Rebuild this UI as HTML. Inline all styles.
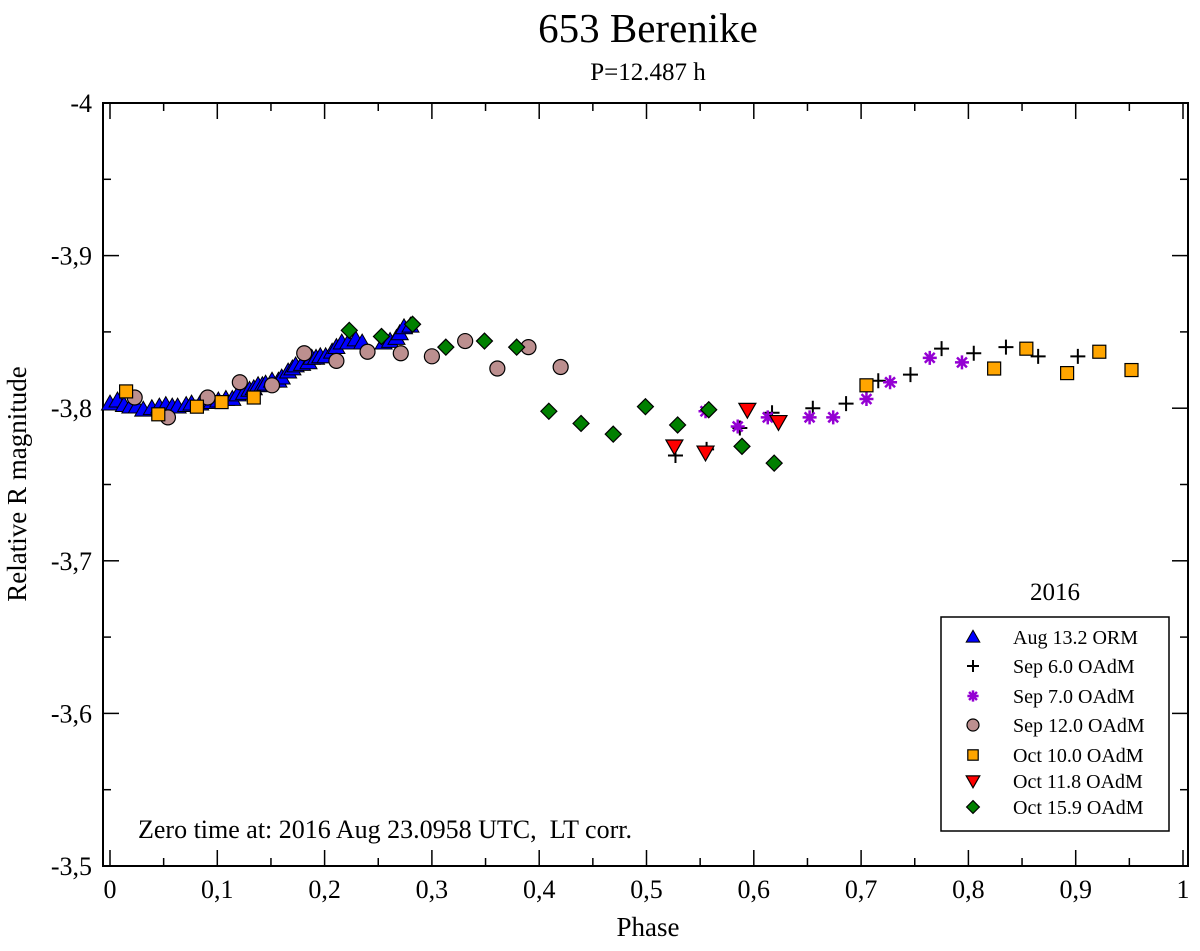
<!DOCTYPE html>
<html><head><meta charset="utf-8"><style>
html,body{margin:0;padding:0;background:#fff;}
svg text{font-family:"Liberation Serif",serif;fill:#000;}
</style></head><body>
<svg id="chart" width="1200" height="946" viewBox="0 0 1200 946" xmlns="http://www.w3.org/2000/svg">
<text x="648" y="42" font-size="41" text-anchor="middle">653 Berenike</text>
<text x="648" y="80" font-size="25" text-anchor="middle">P=12.487 h</text>
<rect x="103" y="103" width="1085" height="763" fill="none" stroke="#000" stroke-width="2"/>
<g id="ticks"></g>
<g id="marks"></g>
<text x="648" y="936" font-size="27" text-anchor="middle">Phase</text>
<text transform="translate(26,484) rotate(-90)" font-size="27" text-anchor="middle">Relative R magnitude</text>
<text x="138" y="838" font-size="26" xml:space="preserve">Zero time at: 2016 Aug 23.0958 UTC,  LT corr.</text>
<text x="1055" y="600" font-size="25" text-anchor="middle">2016</text>
<rect x="941" y="617" width="228" height="214" fill="#fff" stroke="#000" stroke-width="1.5"/>
<g id="legend"></g>
</svg>
<script>
const xTicks=[0,0.1,0.2,0.3,0.4,0.5,0.6,0.7,0.8,0.9,1];
const xTickLabels=["0","0,1","0,2","0,3","0,4","0,5","0,6","0,7","0,8","0,9","1"];
const yTicks=[-4,-3.9,-3.8,-3.7,-3.6,-3.5];
const yTickLabels=["-4","-3,9","-3,8","-3,7","-3,6","-3,5"];
const augPhase=[0.000,0.007,0.013,0.019,0.025,0.031,0.039,0.046,0.052,0.058,0.063,0.071,0.076,0.084,0.089,0.095,0.101,0.108,0.114,0.119,0.125,0.130,0.134,0.138,0.142,0.145,0.151,0.157,0.160,0.166,0.170,0.173,0.179,0.185,0.188,0.192,0.196,0.201,0.207,0.211,0.216,0.222,0.229,0.235,0.255,0.261,0.267,0.270,0.274,0.280];
const augMag=[-3.803,-3.805,-3.802,-3.801,-3.801,-3.799,-3.800,-3.801,-3.802,-3.801,-3.801,-3.802,-3.803,-3.803,-3.804,-3.804,-3.805,-3.806,-3.806,-3.809,-3.810,-3.812,-3.813,-3.815,-3.815,-3.816,-3.818,-3.818,-3.820,-3.824,-3.826,-3.828,-3.829,-3.830,-3.833,-3.833,-3.834,-3.834,-3.837,-3.840,-3.843,-3.843,-3.845,-3.843,-3.843,-3.844,-3.846,-3.849,-3.853,-3.854];
const sep6Phase=[0.527,0.556,0.587,0.617,0.655,0.686,0.716,0.746,0.775,0.805,0.835,0.865,0.902];
const sep6Mag=[-3.769,-3.773,-3.787,-3.797,-3.800,-3.803,-3.818,-3.822,-3.839,-3.836,-3.840,-3.834,-3.834];
const sep7Phase=[0.555,0.585,0.613,0.652,0.674,0.705,0.727,0.764,0.794];
const sep7Mag=[-3.798,-3.788,-3.794,-3.794,-3.794,-3.806,-3.817,-3.833,-3.830];
const sep12Phase=[0.023,0.054,0.091,0.121,0.151,0.181,0.211,0.240,0.271,0.300,0.331,0.361,0.390,0.420];
const sep12Mag=[-3.807,-3.794,-3.807,-3.817,-3.815,-3.836,-3.831,-3.837,-3.836,-3.834,-3.844,-3.826,-3.840,-3.827];
const oct10Phase=[0.015,0.045,0.081,0.104,0.134,0.705,0.824,0.854,0.892,0.922,0.952];
const oct10Mag=[-3.811,-3.796,-3.801,-3.804,-3.807,-3.815,-3.826,-3.839,-3.823,-3.837,-3.825];
const oct11Phase=[0.526,0.555,0.594,0.623];
const oct11Mag=[-3.775,-3.771,-3.799,-3.791];
const oct15Phase=[0.223,0.253,0.282,0.313,0.349,0.379,0.409,0.439,0.469,0.499,0.529,0.558,0.589,0.619];
const oct15Mag=[-3.851,-3.847,-3.855,-3.840,-3.844,-3.840,-3.798,-3.790,-3.783,-3.801,-3.789,-3.799,-3.775,-3.764];
const legendLabels=["Aug 13.2 ORM","Sep 6.0 OAdM","Sep 7.0 OAdM","Sep 12.0 OAdM","Oct 10.0 OAdM","Oct 11.8 OAdM","Oct 15.9 OAdM"];

const NS="http://www.w3.org/2000/svg";
function X(p){return 110+p*1073;}
function Y(m){return 103+(m+4)*1526;}
function mk(tag,attrs,parent){const e=document.createElementNS(NS,tag);for(const k in attrs)e.setAttribute(k,attrs[k]);parent.appendChild(e);return e;}
const tg=document.getElementById('ticks');
xTicks.forEach((t,i)=>{
  const x=X(t);
  const l=mk('line',{x1:x,x2:x,y1:866,y2:850,stroke:'#000','stroke-width':1.5},tg);
  
  
  const l2=mk('line',{x1:x,x2:x,y1:103,y2:119,stroke:'#000','stroke-width':1.5},tg);
  
  
  if(i<xTicks.length-1){const xm=X(t+0.05);
    const m1=mk('line',{x1:xm,x2:xm,y1:866,y2:858,stroke:'#000','stroke-width':1.5},tg);
    
    
    const m2=mk('line',{x1:xm,x2:xm,y1:103,y2:111,stroke:'#000','stroke-width':1.5},tg);
    
    }
  const tx=mk('text',{x:x,y:898,'font-size':26,'text-anchor':'middle'},tg);tx.textContent=xTickLabels[i];
  
  
});
yTicks.forEach((t,i)=>{
  const y=Y(t);
  const l=mk('line',{x1:103,x2:119,y1:y,y2:y,stroke:'#000','stroke-width':1.5},tg);
  
  
  const l2=mk('line',{x1:1172,x2:1188,y1:y,y2:y,stroke:'#000','stroke-width':1.5},tg);
  
  
  if(i<yTicks.length-1){const ym=Y(t+0.05);
    const m1=mk('line',{x1:103,x2:111,y1:ym,y2:ym,stroke:'#000','stroke-width':1.5},tg);
    
    
    const m2=mk('line',{x1:1180,x2:1188,y1:ym,y2:ym,stroke:'#000','stroke-width':1.5},tg);
    
    }
  const tx=mk('text',{x:92,y:y+9,'font-size':26,'text-anchor':'end'},tg);tx.textContent=yTickLabels[i];
  
  
});
function marker(type,x,y,g,s){
  s=s||1;let e;
  if(type==='tri'){const r=8.5*s;e=mk('polygon',{points:`${x},${y-r} ${x+r},${y+r*0.75} ${x-r},${y+r*0.75}`,fill:'#0000ff',stroke:'#000','stroke-width':1},g);}
  else if(type==='plus'){const r=7.5*s;e=mk('path',{d:`M${x-r},${y}H${x+r}M${x},${y-r}V${y+r}`,stroke:'#000','stroke-width':2,fill:'none'},g);}
  else if(type==='star'){const r=7*s;let d='';for(let k=0;k<4;k++){const a=k*Math.PI/4;d+=`M${x-r*Math.cos(a)},${y-r*Math.sin(a)}L${x+r*Math.cos(a)},${y+r*Math.sin(a)}`;}e=mk('path',{d:d,stroke:'#9400d3','stroke-width':2.5,fill:'none'},g);}
  else if(type==='circ'){e=mk('circle',{cx:x,cy:y,r:7.5*s,fill:'#bc8f8f',stroke:'#000','stroke-width':1.2},g);}
  else if(type==='sq'){const r=6.5*s;e=mk('rect',{x:x-r,y:y-r,width:2*r,height:2*r,fill:'#ffa500',stroke:'#000','stroke-width':1.2},g);}
  else if(type==='down'){const r=8.5*s;e=mk('polygon',{points:`${x-r},${y-r*0.75} ${x+r},${y-r*0.75} ${x},${y+r}`,fill:'#ff0000',stroke:'#000','stroke-width':1.2},g);}
  else if(type==='dia'){const r=8*s;e=mk('polygon',{points:`${x},${y-r} ${x+r},${y} ${x},${y+r} ${x-r},${y}`,fill:'#008000',stroke:'#000','stroke-width':1.2},g);}
  return e;
}
const series=[['tri',augPhase,augMag,'aug13'],['plus',sep6Phase,sep6Mag,'sep6'],['star',sep7Phase,sep7Mag,'sep7'],['circ',sep12Phase,sep12Mag,'sep12'],['sq',oct10Phase,oct10Mag,'oct10'],['down',oct11Phase,oct11Mag,'oct11'],['dia',oct15Phase,oct15Mag,'oct15']];
const mg=document.getElementById('marks');
series.forEach(s=>{
  const g=mk('g',{},mg);
  
  
  s[1].forEach((p,i)=>{const e=marker(s[0],X(p),Y(s[2][i]),g);
    
    });
});
const lg=document.getElementById('legend');
const ly=[637,666,696,725,755,781,807];
series.forEach((s,i)=>{
  const g=mk('g',{},lg);
  
  
  marker(s[0],973,ly[i],g,0.8);
  const t=mk('text',{x:1013,y:ly[i]+7,'font-size':20},g);t.textContent=legendLabels[i];
});
</script>
</body></html>
